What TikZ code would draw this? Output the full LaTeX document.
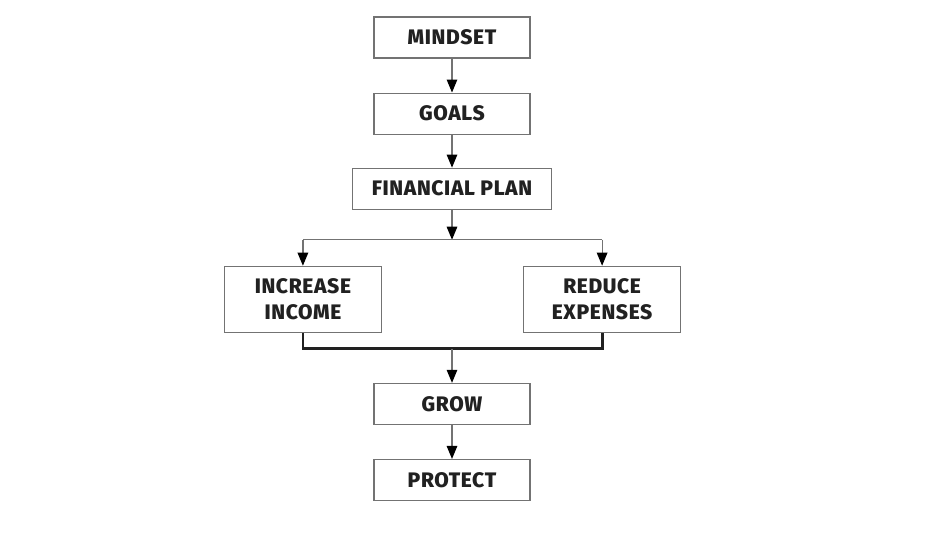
\documentclass[tikz,border=0pt]{standalone}
\usepackage{fontspec}
\setmainfont{Liberation Sans}
\newfontfamily\heavyfont[LetterSpace=3]{Fira Sans ExtraBold}
\usetikzlibrary{positioning,arrows.meta}

\definecolor{boxgray}{gray}{0.45}
\definecolor{inkgray}{gray}{0.13}

\tikzset{
  box/.style={draw=boxgray, line width=1.1pt, minimum width=156pt, minimum height=41pt,
    inner sep=0pt, align=center, text=inkgray, font=\fontsize{21}{25.5}\heavyfont},
  widebox/.style={box, minimum width=199pt},
  sidebox/.style={box, minimum width=157pt, minimum height=66pt},
  link/.style={draw=boxgray, line width=1.2pt},
  arr/.style={link, -{Triangle[length=13pt, width=10.5pt, color=black]}},
  bracket/.style={draw=inkgray, line width=2.8pt}
}

\begin{document}
\begin{tikzpicture}
\useasboundingbox (0,0) rectangle (951pt,546pt);

% ======================================
% TOP CHAIN
% ======================================
\node[box] (ms) at (452pt,508.5pt) {MINDSET};
\node[box, below=34pt of ms] (gl) {GOALS};
\node[widebox, below=33pt of gl] (fp) {FINANCIAL PLAN};
\draw [arr] (ms) -- (gl);
\draw [arr] (gl) -- (fp);

% ======================================
% SPLIT: INCOME AND EXPENSES
% ======================================
\node[sidebox, below left=56pt and -30pt of fp] (ii) {INCREASE\\INCOME};
\node[sidebox, below right=56pt and -29pt of fp] (re) {REDUCE\\EXPENSES};

\coordinate[below=30pt of fp.south] (sj);
\draw [arr] (fp) -- (sj);
\draw [link] (sj -| ii) -- (sj -| re);
\draw [arr] (sj -| ii) -- (ii);
\draw [arr] (sj -| re) -- (re);

% ======================================
% MERGE: GROW AND PROTECT
% ======================================
\coordinate[below=16pt of ii.south] (lb);
\draw [bracket] (ii.south) -- (lb) -| (re.south);
\coordinate (mj) at (fp.south |- lb);

\node[box, below=34pt of mj] (gr) {GROW};
\node[box, below=34pt of gr] (pr) {PROTECT};
\draw [arr] (mj) -- (gr);
\draw [arr] (gr) -- (pr);

\end{tikzpicture}
\end{document}
